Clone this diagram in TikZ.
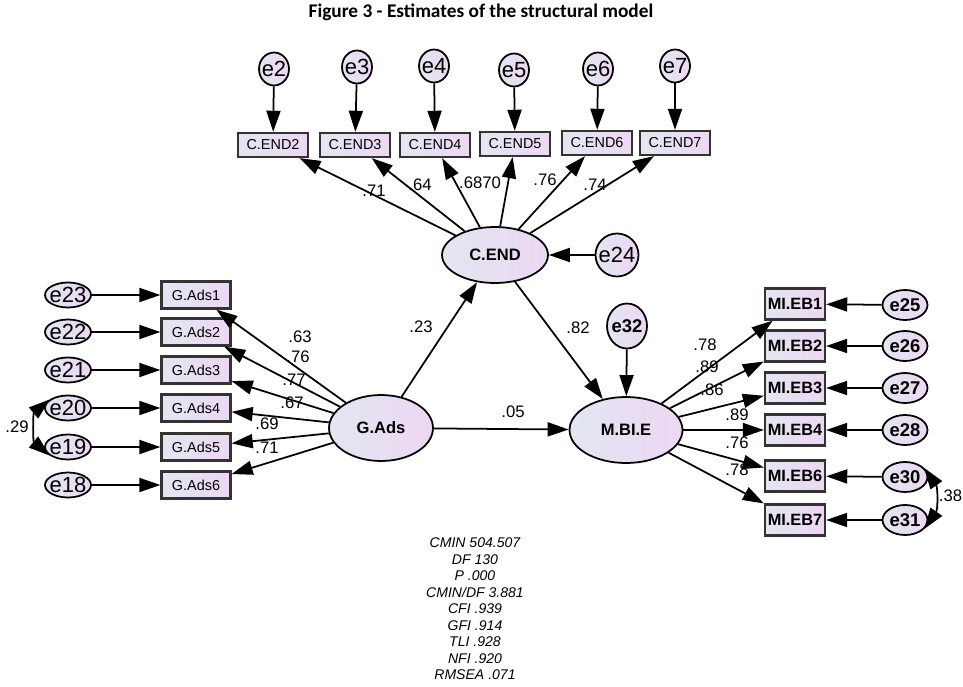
\documentclass[tikz,border=0pt]{standalone}
\usepackage{fontspec}
\setmainfont{Liberation Sans}
\newfontfamily\titlefont{Carlito}
\usetikzlibrary{arrows.meta,shapes.geometric}

\definecolor{semL}{RGB}{226,230,240}
\definecolor{semR}{RGB}{237,215,243}

\tikzset{every picture/.style={line width=0.75pt}}
\tikzset{
	latent/.style={ellipse,draw,line width=1pt,left color=semL,right color=semR,inner sep=0pt,font=\bfseries\fontsize{9.4}{11}\selectfont},
	obsbox/.style={rectangle,draw=black!80,line width=1.3pt,left color=semL,right color=semR,inner sep=1pt,font=\fontsize{8.2}{10}\selectfont},
	errnode/.style={ellipse,draw,line width=1pt,left color=semL,right color=semR,inner sep=0pt,label={[font=\fontsize{12.5}{14}\selectfont]center:#1}},
	errbold/.style={ellipse,draw,line width=1pt,left color=semL,right color=semR,inner sep=0pt,label={[font=\bfseries\fontsize{10.5}{12}\selectfont]center:#1}},
	coef/.style={inner sep=0pt,font=\fontsize{9.5}{11}\selectfont},
}

\begin{document}
\begin{tikzpicture}[x=0.02cm,y=-0.02cm,>={Triangle[length=12pt,width=8pt]},line width=1pt]
	\useasboundingbox (0,0) rectangle (963,686);
	%Title
	\node[font=\titlefont\bfseries\fontsize{11}{13}\selectfont] (title) at (481,12) {Figure 3 - Estimates of the structural model};
	%Errors of C.END
	\node[errnode=e2,minimum width=0.6cm,minimum height=0.66cm] (e2) at (274,69) {};
	\node[errnode=e3,minimum width=0.6cm,minimum height=0.66cm] (e3) at (357,67) {};
	\node[errnode=e4,minimum width=0.6cm,minimum height=0.66cm] (e4) at (434,66) {};
	\node[errnode=e5,minimum width=0.6cm,minimum height=0.66cm] (e5) at (514,70) {};
	\node[errnode=e6,minimum width=0.6cm,minimum height=0.66cm] (e6) at (598,69) {};
	\node[errnode=e7,minimum width=0.6cm,minimum height=0.66cm] (e7) at (675,66) {};
	%Items of C.END
	\node[obsbox,minimum width=1.4cm,minimum height=0.48cm] (cend2) at (273,145) {C.END2};
	\node[obsbox,minimum width=1.4cm,minimum height=0.48cm] (cend3) at (355,145) {C.END3};
	\node[obsbox,minimum width=1.4cm,minimum height=0.48cm] (cend4) at (435,145) {C.END4};
	\node[obsbox,minimum width=1.4cm,minimum height=0.48cm] (cend5) at (515,144) {C.END5};
	\node[obsbox,minimum width=1.4cm,minimum height=0.48cm] (cend6) at (597,143) {C.END6};
	\node[obsbox,minimum width=1.4cm,minimum height=0.48cm] (cend7) at (675,143) {C.END7};
	%Latent C.END
	\node[latent,minimum width=2.12cm,minimum height=1.12cm] (cend) at (495,255) {C.END};
	\node[errnode=e24,circle,minimum size=0.86cm] (e24) at (617,255) {};
	%Latent G.Ads
	\node[latent,minimum width=2.08cm,minimum height=1.32cm] (gads) at (381,428) {G.Ads};
	%Items of G.Ads
	\node[obsbox,minimum width=1.38cm,minimum height=0.54cm] (gads1) at (196,295) {G.Ads1};
	\node[obsbox,minimum width=1.38cm,minimum height=0.54cm] (gads2) at (196,332) {G.Ads2};
	\node[obsbox,minimum width=1.38cm,minimum height=0.54cm] (gads3) at (196,370) {G.Ads3};
	\node[obsbox,minimum width=1.38cm,minimum height=0.54cm] (gads4) at (196,408) {G.Ads4};
	\node[obsbox,minimum width=1.38cm,minimum height=0.54cm] (gads5) at (196,447) {G.Ads5};
	\node[obsbox,minimum width=1.38cm,minimum height=0.54cm] (gads6) at (196,485) {G.Ads6};
	%Errors of G.Ads
	\node[errnode=e23,minimum width=0.92cm,minimum height=0.5cm] (e23) at (68,295) {};
	\node[errnode=e22,minimum width=0.92cm,minimum height=0.5cm] (e22) at (68,332) {};
	\node[errnode=e21,minimum width=0.92cm,minimum height=0.5cm] (e21) at (68,370) {};
	\node[errnode=e20,minimum width=0.92cm,minimum height=0.5cm] (e20) at (68,408) {};
	\node[errnode=e19,minimum width=0.92cm,minimum height=0.5cm] (e19) at (68,447) {};
	\node[errnode=e18,minimum width=0.92cm,minimum height=0.5cm] (e18) at (68,485) {};
	%Latent M.BI.E
	\node[latent,minimum width=2.26cm,minimum height=1.32cm] (mbie) at (626,430) {M.BI.E};
	\node[errbold=e32,minimum width=0.8cm,minimum height=0.9cm] (e32) at (627,326) {};
	%Items of M.BI.E
	\node[obsbox,font=\bfseries\fontsize{9.3}{11}\selectfont,minimum width=1.2cm,minimum height=0.62cm] (mieb1) at (795,304) {MI.EB1};
	\node[obsbox,font=\bfseries\fontsize{9.3}{11}\selectfont,minimum width=1.2cm,minimum height=0.62cm] (mieb2) at (795,346) {MI.EB2};
	\node[obsbox,font=\bfseries\fontsize{9.3}{11}\selectfont,minimum width=1.2cm,minimum height=0.62cm] (mieb3) at (795,388) {MI.EB3};
	\node[obsbox,font=\bfseries\fontsize{9.3}{11}\selectfont,minimum width=1.2cm,minimum height=0.62cm] (mieb4) at (795,430) {MI.EB4};
	\node[obsbox,font=\bfseries\fontsize{9.3}{11}\selectfont,minimum width=1.2cm,minimum height=0.62cm] (mieb6) at (795,476) {MI.EB6};
	\node[obsbox,font=\bfseries\fontsize{9.3}{11}\selectfont,minimum width=1.2cm,minimum height=0.62cm] (mieb7) at (795,520) {MI.EB7};
	%Errors of M.BI.E
	\node[errbold=e25,minimum width=0.9cm,minimum height=0.6cm] (e25) at (905,305) {};
	\node[errbold=e26,minimum width=0.9cm,minimum height=0.6cm] (e26) at (905,346) {};
	\node[errbold=e27,minimum width=0.9cm,minimum height=0.6cm] (e27) at (905,388) {};
	\node[errbold=e28,minimum width=0.9cm,minimum height=0.6cm] (e28) at (905,430) {};
	\node[errbold=e30,minimum width=0.9cm,minimum height=0.6cm] (e30) at (905,477) {};
	\node[errbold=e31,minimum width=0.9cm,minimum height=0.6cm] (e31) at (905,520) {};
	%Coefficients
	\node[coef] (cl2) at (374,191) {.71};
	\node[coef] (cl3) at (420,185) {.64};
	\node[coef] (cl4) at (480,183) {.6870};
	\node[coef] (cl6) at (545,180) {.76};
	\node[coef] (cl7) at (595,185) {.74};
	\node[coef] (s23) at (421,327) {.23};
	\node[coef] (s82) at (578,328) {.82};
	\node[coef] (s05) at (513,412) {.05};
	\node[coef] (gl1) at (300,337) {.63};
	\node[coef] (gl2) at (298,357) {.76};
	\node[coef] (gl3) at (294,380) {.77};
	\node[coef] (gl4) at (292,403) {.67};
	\node[coef] (gl5) at (267,424) {.69};
	\node[coef] (gl6) at (267,448) {.71};
	\node[coef] (c29) at (17,427) {.29};
	\node[coef] (ml1) at (705,345) {.78};
	\node[coef] (ml2) at (707,367) {.89};
	\node[coef] (ml3) at (712,390) {.86};
	\node[coef] (ml4) at (737,415) {.89};
	\node[coef] (ml6) at (737,443) {.76};
	\node[coef] (ml7) at (737,470) {.78};
	\node[coef,anchor=east] (c38) at (963,496) {.38};
	%Arrows C.END
	\draw[->] (e2) -- (cend2);
	\draw[->] (e3) -- (cend3);
	\draw[->] (e4) -- (cend4);
	\draw[->] (e5) -- (cend5);
	\draw[->] (e6) -- (cend6);
	\draw[->] (e7) -- (cend7);
	\draw[->] (cend) -- (cend2);
	\draw[->] (cend) -- (cend3);
	\draw[->] (cend) -- (cend4);
	\draw[->] (cend) -- (cend5);
	\draw[->] (cend) -- (cend6);
	\draw[->] (cend) -- (cend7);
	\draw[->] (e24) -- (cend);
	%Arrows G.Ads
	\draw[->] (gads) -- (gads1);
	\draw[->] (gads) -- (gads2);
	\draw[->] (gads) -- (gads3);
	\draw[->] (gads) -- (gads4);
	\draw[->] (gads) -- (gads5);
	\draw[->] (gads) -- (gads6);
	\draw[->] (e23) -- (gads1);
	\draw[->] (e22) -- (gads2);
	\draw[->] (e21) -- (gads3);
	\draw[->] (e20) -- (gads4);
	\draw[->] (e19) -- (gads5);
	\draw[->] (e18) -- (gads6);
	\draw[<->] (e20.155) to[bend right=50] (e19.205);
	%Structural paths
	\draw[->] (gads) -- (cend);
	\draw[->] (cend) -- (mbie);
	\draw[->] (gads) -- (mbie);
	\draw[->] (e32) -- (mbie);
	%Arrows M.BI.E
	\draw[->] (mbie) -- (mieb1);
	\draw[->] (mbie) -- (mieb2);
	\draw[->] (mbie) -- (mieb3);
	\draw[->] (mbie) -- (mieb4);
	\draw[->] (mbie) -- (mieb6);
	\draw[->] (mbie) -- (mieb7);
	\draw[->] (e25) -- (mieb1);
	\draw[->] (e26) -- (mieb2);
	\draw[->] (e27) -- (mieb3);
	\draw[->] (e28) -- (mieb4);
	\draw[->] (e30) -- (mieb6);
	\draw[->] (e31) -- (mieb7);
	\draw[<->] (e30.25) to[bend left=35] (e31.335);
	%Fit indices
	\node[font=\itshape\fontsize{8}{9.4}\selectfont,align=center] (fit) at (475,609) {CMIN 504.507\\DF 130\\P .000\\CMIN/DF 3.881\\CFI .939\\GFI .914\\TLI .928\\NFI .920\\RMSEA .071};
\end{tikzpicture}
\end{document}
